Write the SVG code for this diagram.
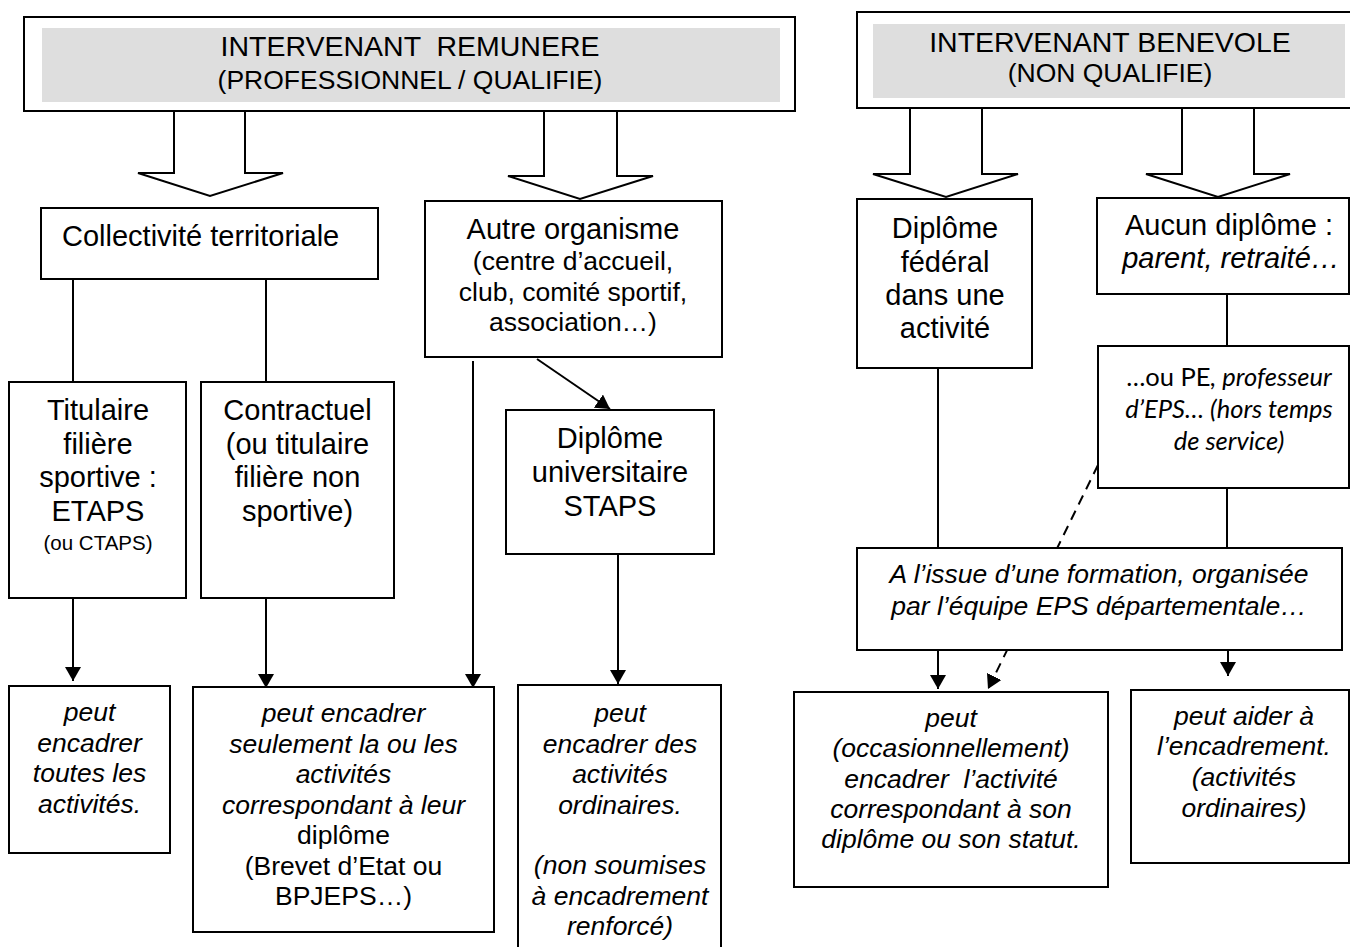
<svg xmlns="http://www.w3.org/2000/svg" width="1350" height="947" viewBox="0 0 1350 947">
<defs>
<style>
.box{fill:#fff;stroke:#000;stroke-width:2}
.gray{fill:#dedede;stroke:none}
.blk{fill:#fff;stroke:#000;stroke-width:2;stroke-linejoin:miter}
.ln{fill:none;stroke:#000;stroke-width:2}
.dash{fill:none;stroke:#000;stroke-width:2;stroke-dasharray:10 7}
text{font-family:"Liberation Sans",Arial,sans-serif;fill:#000;text-anchor:middle;font-size:29px;white-space:pre}
.s{font-size:26.5px}
.xs{font-size:20.5px}
.i{font-style:italic}
.h1{font-size:28.5px}
.cal{font-family:Lato,"Open Sans",sans-serif;font-size:25.5px}
</style>
<marker id="ah" viewBox="0 0 14 16" refX="14" refY="8" markerWidth="14" markerHeight="16" markerUnits="userSpaceOnUse" orient="auto">
<path d="M0,0 L14,8 L0,16 Z" fill="#000"/>
</marker>
</defs>
<rect width="1350" height="947" fill="#fff"/>

<g id="connectors">
<line class="ln" x1="73" y1="279" x2="73" y2="382"/>
<line class="ln" x1="266" y1="279" x2="266" y2="382"/>
<line class="ln" x1="73" y1="598" x2="73" y2="681" marker-end="url(#ah)"/>
<line class="ln" x1="266" y1="598" x2="266" y2="688" marker-end="url(#ah)"/>
<line class="ln" x1="473" y1="361" x2="473" y2="688" marker-end="url(#ah)"/>
<line class="ln" x1="537" y1="359" x2="610" y2="409" marker-end="url(#ah)"/>
<line class="ln" x1="618" y1="554" x2="618" y2="684" marker-end="url(#ah)"/>
<line class="ln" x1="1227" y1="294" x2="1227" y2="346"/>
<line class="ln" x1="1227" y1="488" x2="1227" y2="548"/>
<line class="ln" x1="938" y1="368" x2="938" y2="548"/>
<line class="dash" x1="1098" y1="465" x2="988" y2="689" marker-end="url(#ah)"/>
<line class="ln" x1="938" y1="650" x2="938" y2="689" marker-end="url(#ah)"/>
<line class="ln" x1="1228" y1="650" x2="1228" y2="676" marker-end="url(#ah)"/>
<polygon class="blk" points="174,110 174,173 138,173 210,196 283,173 245,173 245,110"/>
<polygon class="blk" points="544,110 544,176 508,176 580,199 653,176 617,176 617,110"/>
<polygon class="blk" points="910,108 910,174 873,174 946,197 1018,174 982,174 982,108"/>
<polygon class="blk" points="1182,108 1182,174 1146,174 1218,197 1290,174 1254,174 1254,108"/>
</g>

<g id="header-remunere">
<rect class="box" x="24" y="17" width="771" height="94"/>
<rect class="gray" x="42" y="28" width="738" height="74"/>
<text class="h1" x="410" y="56" xml:space="preserve">INTERVENANT  REMUNERE</text>
<text class="s" x="410" y="89">(PROFESSIONNEL / QUALIFIE)</text>
</g>

<g id="header-benevole">
<rect class="box" x="857" y="12" width="500" height="96"/>
<rect class="gray" x="873" y="24" width="472" height="74"/>
<text class="h1" x="1110" y="52">INTERVENANT BENEVOLE</text>
<text class="s" x="1110" y="82">(NON QUALIFIE)</text>
</g>

<g id="collectivite">
<rect class="box" x="41" y="208" width="337" height="71"/>
<text x="62" y="246" style="text-anchor:start">Collectivité territoriale</text>
</g>

<g id="titulaire">
<rect class="box" x="9" y="382" width="177" height="216"/>
<text x="98" y="420">Titulaire</text>
<text x="98" y="454">filière</text>
<text x="98" y="487">sportive :</text>
<text x="98" y="521">ETAPS</text>
<text class="xs" x="98" y="550">(ou CTAPS)</text>
</g>

<g id="contractuel">
<rect class="box" x="201" y="382" width="193" height="216"/>
<text x="297.5" y="420">Contractuel</text>
<text x="297.5" y="454">(ou titulaire</text>
<text x="297.5" y="487">filière non</text>
<text x="297.5" y="521">sportive)</text>
</g>

<g id="autre-organisme">
<rect class="box" x="425" y="201" width="297" height="156"/>
<text x="573" y="239">Autre organisme</text>
<text class="s" x="573" y="270">(centre d’accueil,</text>
<text class="s" x="573" y="301">club, comité sportif,</text>
<text class="s" x="573" y="331">association…)</text>
</g>

<g id="staps">
<rect class="box" x="506" y="410" width="208" height="144"/>
<text x="610" y="448">Diplôme</text>
<text x="610" y="482">universitaire</text>
<text x="610" y="516">STAPS</text>
</g>

<g id="toutes-activites">
<rect class="box" x="9" y="686" width="161" height="167"/>
<text class="s i" x="89.5" y="721">peut</text>
<text class="s i" x="89.5" y="752">encadrer</text>
<text class="s i" x="89.5" y="782">toutes les</text>
<text class="s i" x="89.5" y="813">activités.</text>
</g>

<g id="seulement">
<rect class="box" x="193" y="687" width="301" height="245"/>
<text class="s i" x="343.5" y="722">peut encadrer</text>
<text class="s i" x="343.5" y="752.5">seulement la ou les</text>
<text class="s i" x="343.5" y="783">activités</text>
<text class="s i" x="343.5" y="813.5">correspondant à leur</text>
<text class="s" x="343.5" y="844">diplôme</text>
<text class="s" x="343.5" y="874.5">(Brevet d’Etat ou</text>
<text class="s" x="343.5" y="905">BPJEPS…)</text>
</g>

<g id="ordinaires">
<rect class="box" x="518" y="685" width="203" height="275"/>
<text class="s i" x="620" y="722">peut</text>
<text class="s i" x="620" y="752.5">encadrer des</text>
<text class="s i" x="620" y="783">activités</text>
<text class="s i" x="620" y="813.5">ordinaires.</text>
<text class="s i" x="620" y="874">(non soumises</text>
<text class="s i" x="620" y="904.5">à encadrement</text>
<text class="s i" x="620" y="935">renforcé)</text>
</g>

<g id="diplome-federal">
<rect class="box" x="857" y="199" width="175" height="169"/>
<text x="945" y="238">Diplôme</text>
<text x="945" y="272">fédéral</text>
<text x="945" y="305">dans une</text>
<text x="945" y="338">activité</text>
</g>

<g id="aucun-diplome">
<rect class="box" x="1097" y="198" width="252" height="96"/>
<text x="1229" y="235">Aucun diplôme :</text>
<text class="i" x="1231" y="268">parent, retraité…</text>
</g>

<g id="pe">
<rect class="box" x="1098" y="346" width="251" height="142"/>
<text class="cal" x="1229" y="386">…ou PE<tspan class="i">, professeur</tspan></text>
<text class="cal i" x="1229" y="418">d’EPS… (hors temps</text>
<text class="cal i" x="1229" y="450">de service)</text>
</g>

<g id="formation">
<rect class="box" x="857" y="548" width="485" height="102"/>
<text class="s i" x="1099" y="583">A l’issue d’une formation, organisée</text>
<text class="s i" x="1099" y="615">par l’équipe EPS départementale…</text>
</g>

<g id="occasionnellement">
<rect class="box" x="794" y="692" width="314" height="195"/>
<text class="s i" x="951" y="727">peut</text>
<text class="s i" x="951" y="757">(occasionnellement)</text>
<text class="s i" x="951" y="787.5" xml:space="preserve">encadrer  l’activité</text>
<text class="s i" x="951" y="818">correspondant à son</text>
<text class="s i" x="951" y="848">diplôme ou son statut.</text>
</g>

<g id="aider">
<rect class="box" x="1131" y="690" width="218" height="173"/>
<text class="s i" x="1244" y="725">peut aider à</text>
<text class="s i" x="1244" y="755">l’encadrement.</text>
<text class="s i" x="1244" y="786">(activités</text>
<text class="s i" x="1244" y="817">ordinaires)</text>
</g>
</svg>
